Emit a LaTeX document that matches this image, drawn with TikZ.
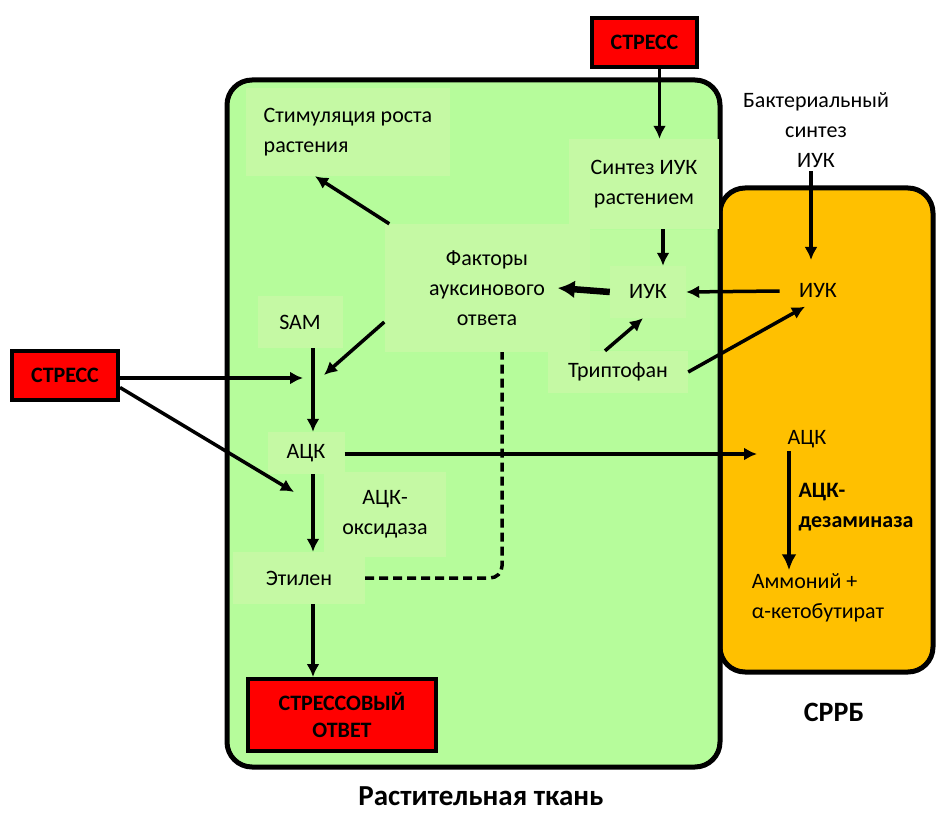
\documentclass[tikz,border=0pt]{standalone}
\usepackage{fontspec}
\setmainfont{Carlito}
\usetikzlibrary{arrows.meta}
\definecolor{tissuegreen}{RGB}{182,252,155}
\definecolor{cellgreen}{RGB}{197,249,164}
\definecolor{shadegreen}{RGB}{189,251,159}
\definecolor{bactorange}{RGB}{255,192,0}
\definecolor{stressred}{RGB}{255,0,0}
\tikzstyle{container} = [draw=black, line width=5pt, rounded corners=25pt]
\tikzstyle{stress} = [rectangle, draw=black, line width=4pt, fill=stressred, text centered, align=center, font=\bfseries\fontsize{22}{27}\selectfont]
\tikzstyle{cellbox} = [rectangle, fill=cellgreen, text centered, align=center]
\tikzstyle{plain} = [rectangle, text centered, align=center]
\tikzstyle{arrow} = [line width=3.5pt, -{Latex[length=13pt,width=13pt]}]
\tikzstyle{thickarrow} = [line width=4.5pt, -{Latex[length=16pt,width=15pt]}]
\tikzstyle{bigarrow} = [line width=6.5pt, -{Latex[length=17pt,width=18pt]}]
\tikzstyle{feedback} = [line width=3.5pt, dash pattern=on 9pt off 5pt, rounded corners=12pt]

\begin{document}
\begin{tikzpicture}[x=1pt, y=-1pt, font=\fontsize{22}{30}\selectfont]
	\useasboundingbox (0,0) rectangle (937,813);
	\draw [container, fill=bactorange] (720,188) rectangle (933,672);
	\draw [container, fill=tissuegreen] (227,80) rectangle (720,767);
	\fill [shadegreen] (590,230) rectangle (714,350);
	\node (stresstop) [stress, minimum width=105, minimum height=49] at (644.5,42.5) {СТРЕСС};
	\node (stressleft) [stress, minimum width=106, minimum height=49] at (65,375.5) {СТРЕСС};
	\node (response) [stress, minimum width=188, minimum height=72] at (342,715) {СТРЕССОВЫЙ\\ОТВЕТ};
	\node (growth) [cellbox, align=left, minimum width=204, minimum height=88] at (348,132) {Стимуляция роста\\растения};
	\node (synth) [cellbox, minimum width=150, minimum height=90] at (644,184) {Синтез ИУК\\растением};
	\node (factors) [cellbox, minimum width=205, minimum height=128] at (487,288) {Факторы\\ауксинового\\ответа};
	\node (iaa) [cellbox, minimum width=76, minimum height=52] at (648,292) {ИУК};
	\node (trp) [cellbox, minimum width=140, minimum height=42] at (618,372) {Триптофан};
	\node (sam) [cellbox, minimum width=85, minimum height=52] at (300,322) {SAM};
	\node (acc) [cellbox, minimum width=77, minimum height=42] at (306,453) {АЦК};
	\node (oxid) [cellbox, minimum width=122, minimum height=85] at (385,514) {АЦК-\\оксидаза};
	\node (ethylene) [cellbox, minimum width=132, minimum height=52] at (299,578) {Этилен};
	\node (bsynth) [plain] at (816,130) {Бактериальный\\синтез\\ИУК};
	\node (biaa) [plain] at (818,291) {ИУК};
	\node (bacc) [plain] at (807,439) {АЦК};
	\node (deam) [plain, align=left, font=\bfseries\fontsize{22}{30}\selectfont] at (856,507) {АЦК-\\дезаминаза};
	\node (ammon) [plain, align=left] at (818,598) {Аммоний +\\α-кетобутират};
	\node (tissuelabel) [plain, anchor=base, inner sep=1pt, font=\bfseries\fontsize{29}{30}\selectfont] at (481,805) {Растительная ткань};
	\node (pgpb) [plain, font=\bfseries\fontsize{28}{30}\selectfont] at (834,712) {СРРБ};
	\coordinate (joinleft) at (303,378);
	\coordinate (joinright) at (324,375);
	\coordinate (oxidleft) at (294,492);
	\coordinate (bacctip) at (757,454);
	\coordinate (bsynthtip) at (811,260);
	\draw [arrow] ([xshift=15pt]stresstop.south) -- ([xshift=15pt]stresstop.south |- synth.north);
	\draw [arrow] ([xshift=15pt]iaa.north |- synth.south) -- ([xshift=15pt]iaa.north);
	\draw [bigarrow] (iaa.west) -- ([xshift=-32pt]factors.east);
	\draw [arrow] ([xshift=-16pt]biaa.west) -- (iaa.east);
	\draw [arrow] (bsynth.south -| bsynthtip) -- (bsynthtip);
	\draw [arrow] ([xshift=-13pt]trp.north) -- ([xshift=-5pt]iaa.south);
	\draw [arrow] (trp.east) -- ([shift={(-13,5)}]biaa.south);
	\draw [arrow] ([xshift=5pt]factors.north west) -- ([xshift=-33pt]growth.south);
	\draw [arrow] ([yshift=-34pt]factors.west) -- (joinright);
	\draw [arrow] ([xshift=13pt]sam.south) -- ([xshift=7pt]acc.north);
	\draw [arrow] (stressleft.east |- joinleft) -- (joinleft);
	\draw [arrow] ([yshift=-12pt]stressleft.east) -- (oxidleft);
	\draw [arrow] ([xshift=7pt]acc.south) -- ([xshift=14pt]ethylene.north);
	\draw [arrow] ([xshift=14pt]ethylene.south) -- ([xshift=14pt]ethylene.south |- response.north);
	\draw [arrow] (acc.east |- bacctip) -- (bacctip);
	\draw [thickarrow] ([xshift=-18pt]bacc.south) -- ([xshift=-18pt]bacc.south |- ammon.north);
	\draw [feedback] (ethylene.east) -| ([xshift=15pt]factors.south);
\end{tikzpicture}
\end{document}
